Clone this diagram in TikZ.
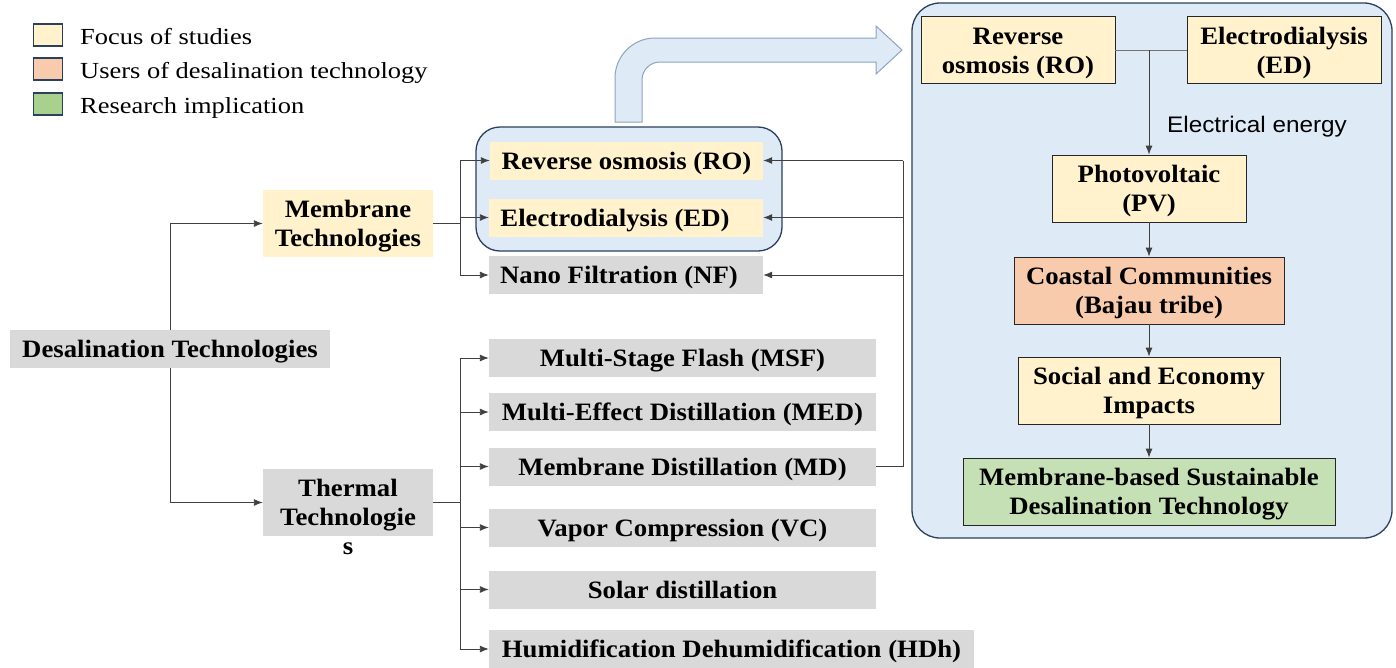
\documentclass[tikz,border=0pt]{standalone}
\usepackage{fontspec}
\setmainfont{Liberation Serif}[FakeStretch=1.07]
\newfontfamily\legf{Liberation Serif}[FakeStretch=1.15]
\newfontfamily\sansf{Liberation Sans}[FakeStretch=1.08]
\usetikzlibrary{arrows.meta,calc}

\definecolor{focusY}{HTML}{FFF2CC}
\definecolor{userO}{HTML}{F8CBAD}
\definecolor{implG}{HTML}{C5E0B4}
\definecolor{legG}{HTML}{A9D18E}
\definecolor{techG}{HTML}{D9D9D9}
\definecolor{panelB}{HTML}{DEEAF6}
\definecolor{navy}{HTML}{2B3F5E}
\definecolor{arrowE}{HTML}{8EA3C0}
\definecolor{wire}{HTML}{404040}

\tikzset{
  btext/.style={font=\bfseries\fontsize{25}{29}\selectfont, align=center, inner sep=0pt},
  oneline/.style={text height=17pt, text depth=0pt},
  twoline/.style={text height=46pt, text depth=0pt},
  tbox/.style={btext, oneline, minimum width=#1, minimum height=38},
  gbox/.style={tbox=#1, fill=techG},
  ybox/.style={tbox=#1, fill=focusY},
  pbox/.style={btext, twoline, draw=black!85, line width=0.8pt, minimum height=67},
  legbox/.style={draw=navy, line width=1.3pt, minimum width=29, minimum height=22, inner sep=0pt},
  legtext/.style={font=\legf\fontsize{23}{27}\selectfont, anchor=base west, inner sep=0pt},
  wireline/.style={draw=wire, line width=0.9pt},
  conn/.style={wireline, -{Latex[length=9pt,width=7pt]}},
}

\begin{document}
\begin{tikzpicture}[x=1pt,y=-1pt]
\useasboundingbox (0,0) rectangle (1396,667);

% legend
\node[legbox, fill=focusY] (lg1) at (48,35) {};
\node[legbox, fill=userO] (lg2) at (48,69) {};
\node[legbox, fill=legG] (lg3) at (48,104) {};
\node[legtext] (lt1) at (80,44) {Focus of studies};
\node[legtext] (lt2) at (80,78) {Users of desalination technology};
\node[legtext] (lt3) at (80,113) {Research implication};

% bent arrow leading to the detailed panel
\draw[fill=panelB, draw=arrowE, line width=1pt]
  (615,122) [rounded corners=40pt] -- (615,38) [sharp corners] -- (876,38)
  -- (876,26) -- (902,50) -- (876,74) -- (876,62)
  [rounded corners=18pt] -- (642,62) [sharp corners] -- (642,122) -- cycle;

% membrane group frame
\node[draw=navy, fill=panelB, line width=1.3pt, rounded corners=24pt,
      minimum width=306, minimum height=124, inner sep=0pt] (grp) at (629,189) {};

% classification tree
\node[gbox=320] (desal) at (170,349) {Desalination Technologies};
\node[btext, twoline, minimum width=170, minimum height=67, fill=focusY] (memb) at (348,223.5) {Membrane\\Technologies};
\node[minimum width=170, minimum height=67, inner sep=0pt, fill=techG] (therm) at (348,502.5) {};
\node[btext, anchor=base] (thermtxt) at (348,554) {Thermal\\Technologie\\s};

\node[ybox=273] (ro) at (626.5,160.5) {Reverse osmosis (RO)};
\node[ybox=274] (ed) at (626,217.5) {Electrodialysis (ED)\hspace*{22pt}};
\node[gbox=274] (nf) at (626,275) {Nano Filtration (NF)\hspace*{14pt}};

\node[gbox=387] (msf) at (682.5,358) {Multi-Stage Flash (MSF)};
\node[gbox=387] (med) at (682.5,412) {Multi-Effect Distillation (MED)};
\node[gbox=387] (md) at (682.5,466.5) {Membrane Distillation (MD)};
\node[gbox=387] (vc) at (682.5,527.5) {Vapor Compression (VC)};
\node[gbox=387] (sol) at (682.5,589.5) {Solar distillation};
\node[gbox=485] (hdh) at (731.5,649) {Humidification Dehumidification (HDh)};

\draw[conn] (desal.north) |- (memb.west);
\draw[conn] (desal.south) |- (therm.west);

\coordinate (mx) at (460,0);
\draw[wireline] (memb.east) -- (memb.east -| mx);
\draw[conn] (memb.east -| mx) |- (ro.west);
\draw[conn] (memb.east -| mx) |- (ed.west);
\draw[conn] (memb.east -| mx) |- (nf.west);

\draw[wireline] (therm.east) -- (therm.east -| mx);
\foreach \t in {msf,med,md,vc,sol,hdh}
  \draw[conn] (therm.east -| mx) |- (\t.west);

\coordinate (rx) at (903,0);
\draw[wireline] (md.east) -- (md.east -| rx) -- (ro.east -| rx);
\draw[conn] (ro.east -| rx) -- (ro.east);
\draw[conn] (ed.east -| rx) -- (ed.east);
\draw[conn] (nf.east -| rx) -- (nf.east);

% detailed panel
\node[draw=navy, fill=panelB, line width=1.3pt, rounded corners=28pt,
      minimum width=480, minimum height=535, inner sep=0pt] (panel) at (1152,270.5) {};

\node[pbox, fill=focusY, minimum width=194] (ro2) at (1018,50) {Reverse\\osmosis (RO)};
\node[pbox, fill=focusY, minimum width=194] (ed2) at (1284,50) {Electrodialysis\\(ED)};
\node[pbox, fill=focusY, minimum width=194] (pv) at (1149,188.5) {Photovoltaic\\(PV)};
\node[pbox, fill=userO, minimum width=270] (cc) at (1149,290.5) {Coastal Communities\\(Bajau tribe)};
\node[pbox, fill=focusY, minimum width=262] (soc) at (1149,390.5) {Social and Economy\\Impacts};
\node[pbox, fill=implG, minimum width=372] (mbs) at (1149,491.5) {Membrane-based Sustainable\\Desalination Technology};

\draw[wireline, draw=black!55] (ro2.east) -- (ed2.west);
\draw[conn] (pv.north |- ro2.east) -- (pv.north);
\node[font=\sansf\fontsize{22.5}{26}\selectfont, anchor=west, inner sep=0pt] (elab) at (1167,127) {Electrical energy};
\draw[conn] (pv) -- (cc);
\draw[conn] (cc) -- (soc);
\draw[conn] (soc) -- (mbs);
\end{tikzpicture}
\end{document}
